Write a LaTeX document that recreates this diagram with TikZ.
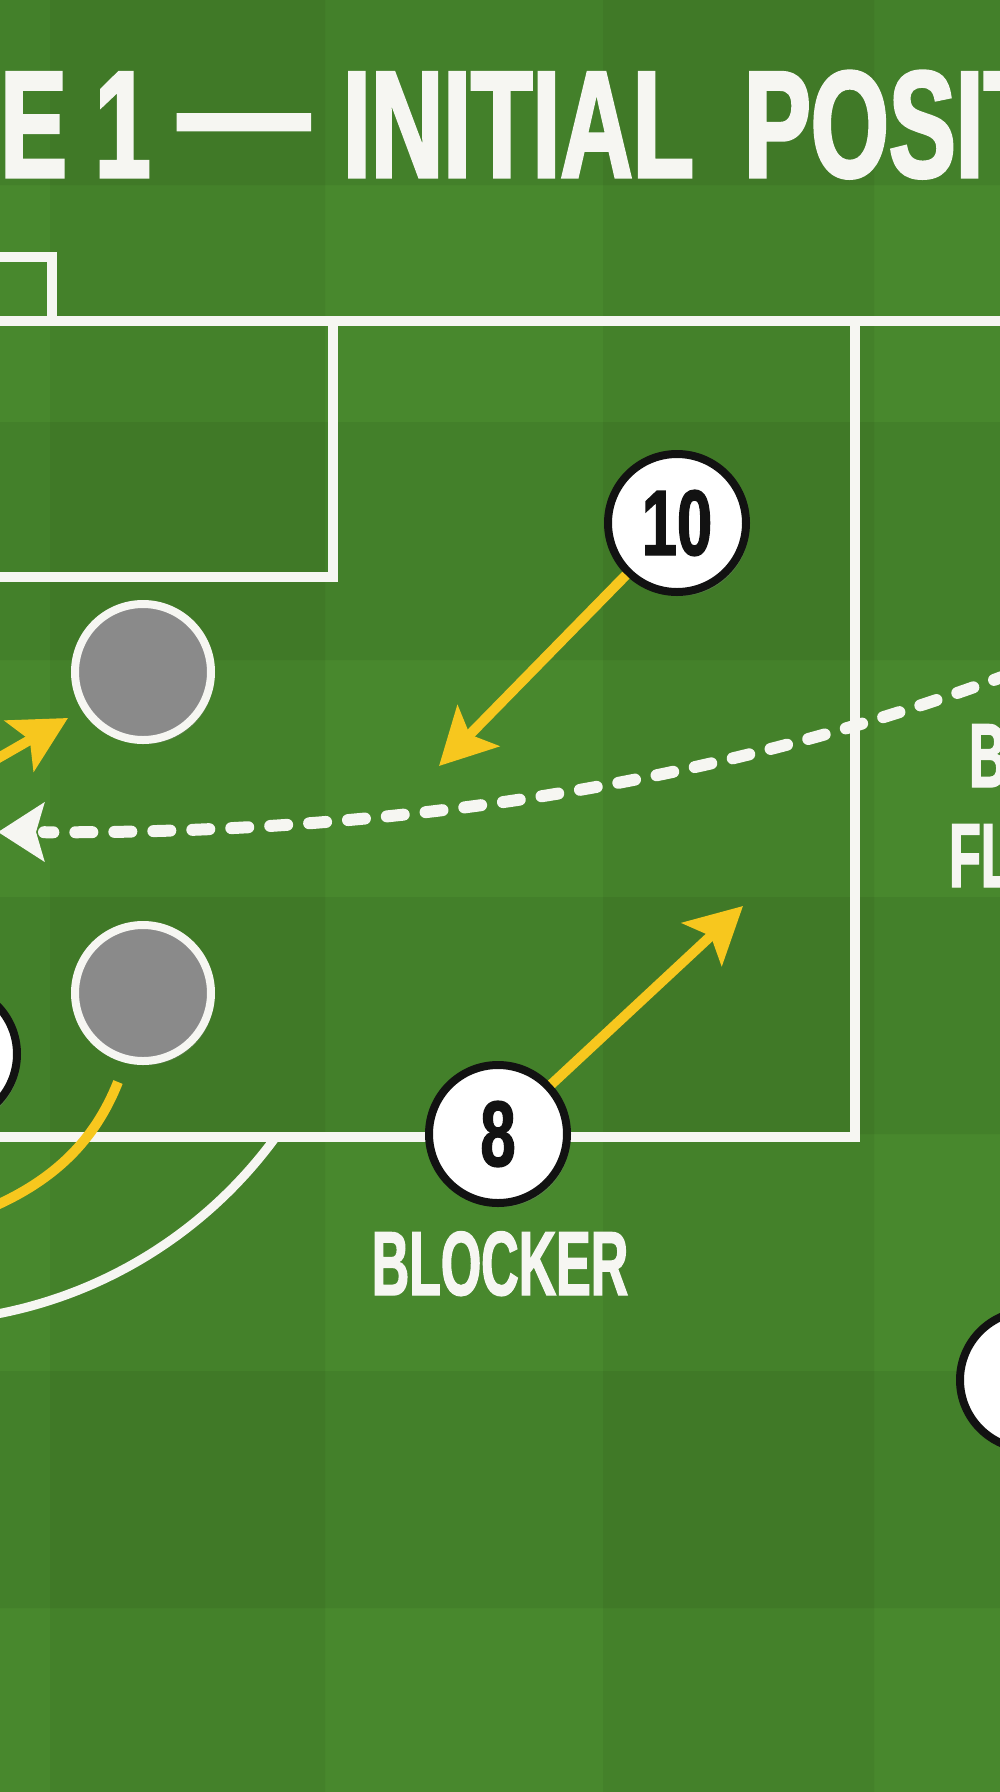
\documentclass[tikz,border=0pt]{standalone}
\usepackage{fontspec}
\usepackage{graphicx}
\usetikzlibrary{arrows.meta,shadows}
\newfontfamily\titlefont{Liberation Sans}[FakeStretch=0.66, FakeBold=2]
\newfontfamily\labfont{Liberation Sans}[FakeStretch=0.57, FakeBold=1.5]
\newfontfamily\numfont{Liberation Sans}[FakeStretch=0.68, FakeBold=1.5]
\definecolor{grass}{HTML}{48882D}
\definecolor{pitchwhite}{HTML}{F6F6F2}
\definecolor{arrowyellow}{HTML}{F7C71E}
\definecolor{oppgray}{HTML}{8A8A8A}
\definecolor{rim}{HTML}{121212}
\tikzset{
  pitchline/.style={draw=pitchwhite, line width=10pt, line join=miter},
  player/.style={circle, fill=white, draw=rim, line width=8pt, minimum size=138pt,
    inner sep=0pt, text=rim, font=\numfont\bfseries\fontsize{93}{93}\selectfont,
    drop shadow={opacity=0.3, shadow xshift=3pt, shadow yshift=-4pt}},
  opponent/.style={circle, fill=oppgray, draw=pitchwhite, line width=8pt, minimum size=136pt,
    inner sep=0pt, drop shadow={opacity=0.3, shadow xshift=3pt, shadow yshift=-4pt}},
  run/.style={draw=arrowyellow, line width=10pt, -{Stealth[length=56pt, width=58pt, inset=12pt]}},
  runcurve/.style={draw=arrowyellow, line width=10pt},
  balldash/.style={draw=pitchwhite, line width=12pt, line cap=round, dash pattern=on 17pt off 22pt},
  ballhead/.style={draw=pitchwhite, line width=12pt, -{Stealth[length=46pt, width=58pt, inset=8pt]}},
  caption/.style={text=pitchwhite, inner sep=0pt, font=\labfont\bfseries\fontsize{91}{91}\selectfont},
  titletext/.style={text=pitchwhite, inner sep=0pt, font=\titlefont\bfseries\fontsize{152}{160}\selectfont},
}
\begin{document}
\begin{tikzpicture}[x=1pt,y=-1pt]
\useasboundingbox (0,0) rectangle (1000,1792);
\clip (0,0) rectangle (1000,1792);
% grass
\fill[grass] (0,0) rectangle (1000,1792);
\fill[black, opacity=0.05] (50,0) rectangle (325,1792) (603,0) rectangle (874,1792);
\fill[black, opacity=0.06] (0,-60) rectangle (1000,185) (0,422) rectangle (1000,660)
  (0,897) rectangle (1000,1134) (0,1371) rectangle (1000,1608);
% pitch lines
\draw[pitchline] (-10,257) -| (52,321);
\draw[pitchline] (-10,321) -- (1010,321);
\draw[pitchline] (-10,577) -| (333,321);
\draw[pitchline] (-10,1137) -| (855,321);
\begin{scope}
  \clip (-20,1137) rectangle (1020,1800);
  \draw[pitchline, line width=9pt] (-88,872) circle[radius=450];
\end{scope}
% title
\node[titletext, anchor=base west] (title) at (0,177)
  {E 1 \raisebox{14pt}{\scalebox{1.3}[1]{—}} \hspace{6pt}INITIAL \hspace{22pt}POSIT};
% players
\node[opponent] (o1) at (143,672) {};
\node[opponent] (o2) at (143,993) {};
\node[player] (p10) at (677,523) {10};
\node[player] (p8) at (498,1134) {8};
\node[player] (pL) at (-52,1054) {};
\node[player] (pR) at (1029,1380) {};
% labels
\node[caption, anchor=base] (blocker) at (500,1295) {BLOCKER};
\node[caption, anchor=base west] (lblB) at (969,787) {B};
\node[caption, anchor=base west] (lblFL) at (949,887) {FL};
% runs
\coordinate (t10) at (439,766);
\coordinate (t8) at (743,906);
\coordinate (sL) at (-40,780);
\coordinate (tL) at (68,718);
\draw[run] (p10) -- (t10);
\draw[run] (p8) -- (t8);
\draw[run] (sL) -- (tL);
\coordinate (c1) at (118,1082);
\coordinate (c2) at (-10,1208);
\draw[runcurve] (c1) .. controls (95,1140) and (55,1180) .. (c2);
% ball flight
\coordinate (bS) at (1010,674);
\coordinate (bE) at (-2,832);
\coordinate (bH) at (30,832);
\draw[balldash, shorten >=46pt] (bS) .. controls (715,784) and (398,834) .. (bE);
\draw[ballhead] (bH) -- (bE);
\end{tikzpicture}
\end{document}
